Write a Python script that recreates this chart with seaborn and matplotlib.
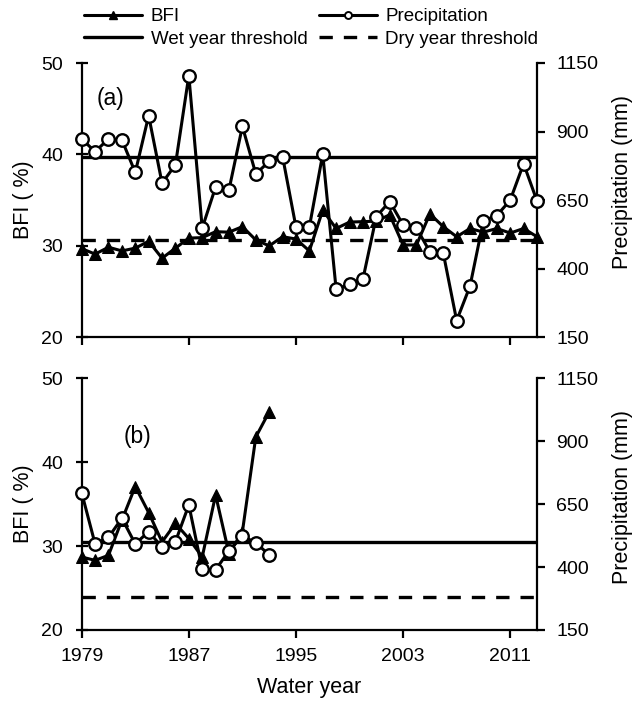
import numpy as np
import pandas as pd
import matplotlib
matplotlib.use("Agg")
import matplotlib.pyplot as plt
import seaborn as sns
from matplotlib.lines import Line2D

# ---------------- data ----------------
years_a = list(range(1979, 2014))
bfi_a = [29.7, 29.1, 29.85, 29.45, 29.75, 30.5, 28.65, 29.75, 30.85, 30.9,
         31.55, 31.5, 32.1, 30.65, 30.0, 31.0, 30.75, 29.45, 33.9, 31.9,
         32.6, 32.65, 32.7, 33.4, 30.1, 30.1, 33.5, 32.1, 31.0, 31.9,
         31.5, 31.9, 31.4, 31.9, 31.0]
precip_a = [873, 827, 873, 870, 751, 958, 712, 779, 1104, 548,
            698, 688, 919, 746, 791, 809, 552, 552, 818, 325,
            343, 362, 590, 645, 560, 548, 462, 457, 211, 337,
            575, 594, 650, 783, 647]
wet_a, dry_a = 809, 506

years_b = list(range(1979, 1994))
bfi_b = [28.7, 28.3, 28.9, 33.1, 37.1, 34.0, 30.5, 32.7, 30.9, 28.7,
         36.1, 29.1, 31.7, 43.0, 46.0]
precip_b = [695, 492, 518, 594, 492, 541, 479, 501, 647, 391,
            389, 465, 523, 497, 448]
wet_b, dry_b = 501, 280

xticks = [1979, 1987, 1995, 2003, 2011]
bfi_ticks = [20, 30, 40, 50]
precip_ticks = [150, 400, 650, 900, 1150]

# ---------------- style ----------------
sns.set_style("ticks")
plt.rcParams['font.family'] = ['Liberation Sans', 'DejaVu Sans']
plt.rcParams['axes.linewidth'] = 1.6
plt.rcParams['text.color'] = 'black'
plt.rcParams['axes.labelcolor'] = 'black'
plt.rcParams['xtick.color'] = 'black'
plt.rcParams['ytick.color'] = 'black'
plt.rcParams['axes.edgecolor'] = 'black'

fig = plt.figure(figsize=(6.36, 7.01), dpi=100)
W, H = 636, 701

def add_ax(left, right, top, bottom):
    return fig.add_axes([left / W, 1 - bottom / H, (right - left) / W, (bottom - top) / H])

ax_a = add_ax(81.7, 537, 63, 337.3)
ax_b = add_ax(81.7, 537, 378.3, 630)

TICK_FS = 14
LAB_FS = 15.5
LW = 2.2

def panel(ax, years, bfi, precip, wet, dry, label, label_xy, rlab_y, show_x):
    df = pd.DataFrame({"year": years, "bfi": bfi, "precip": precip})
    ax2 = ax.twinx()
    sns.lineplot(data=df, x="year", y="bfi", ax=ax, color="black", lw=LW,
                 marker="^", markersize=8.5, markeredgecolor="black",
                 markerfacecolor="black", clip_on=False, zorder=3)
    sns.lineplot(data=df, x="year", y="precip", ax=ax2, color="black", lw=LW,
                 marker="o", markersize=9, markeredgecolor="black",
                 markerfacecolor="white", markeredgewidth=1.7,
                 clip_on=False, zorder=3)
    ax2.axhline(wet, color="black", lw=2.4, zorder=2)
    ax2.axhline(dry, color="black", lw=2.4, dashes=(4, 3.3), zorder=2)

    ax.set_xlim(1979, 2013)
    ax.set_ylim(20, 50)
    ax2.set_ylim(150, 1150)
    ax.set_xticks(xticks)
    ax.set_yticks(bfi_ticks)
    ax2.set_yticks(precip_ticks)

    for s in ["top", "right"]:
        ax.spines[s].set_visible(False)
    for s in ["top", "left", "bottom"]:
        ax2.spines[s].set_visible(False)
    ax2.spines["right"].set_linewidth(1.6)

    ax.tick_params(axis="y", direction="inout", length=8, width=1.6,
                   pad=9.5, labelsize=TICK_FS, colors="black")
    ax.tick_params(axis="x", direction="out", length=6, width=1.6,
                   pad=7, labelsize=TICK_FS, colors="black")
    ax2.tick_params(axis="y", direction="out", length=6, width=1.6,
                    pad=8, labelsize=TICK_FS, colors="black")
    if not show_x:
        ax.tick_params(axis="x", labelbottom=False)
        ax.set_xlabel("")
    else:
        ax.set_xlabel("Water year", fontsize=LAB_FS)
        ax.xaxis.set_label_coords(0.5, -0.185)

    ax.set_ylabel("BFI ( %)", fontsize=LAB_FS)
    ax.yaxis.set_label_coords(-0.105, 0.5)
    ax2.set_ylabel("Precipitation (mm)", fontsize=LAB_FS)
    ax2.yaxis.set_label_coords(1.165, rlab_y)

    ax.text(label_xy[0], label_xy[1], label, transform=ax.transAxes,
            fontsize=16.5, ha="center", va="center")
    ax.patch.set_visible(False)
    ax2.patch.set_visible(False)
    return ax2

panel(ax_a, years_a, bfi_a, precip_a, wet_a, dry_a, "(a)", (0.064, 0.869), 0.565, False)
panel(ax_b, years_b, bfi_b, precip_b, wet_b, dry_b, "(b)", (0.1226, 0.769), 0.53, True)

handles = [
    Line2D([], [], color="black", lw=LW, marker="^", markersize=5.5,
           markerfacecolor="black", markeredgecolor="black"),
    Line2D([], [], color="black", lw=2.4),
    Line2D([], [], color="black", lw=LW, marker="o", markersize=5,
           markerfacecolor="white", markeredgecolor="black", markeredgewidth=1.4),
    Line2D([], [], color="black", lw=2.4, dashes=(4, 3.3)),
]
labels = ["BFI", "Wet year threshold", "Precipitation", "Dry year threshold"]
fig.legend(handles, labels, ncol=2, loc="upper left",
           bbox_to_anchor=(84 / W, 1 - 8 / H), frameon=False,
           fontsize=13.5, handlelength=3.1, handletextpad=0.45,
           columnspacing=0.6, labelspacing=0.3, borderpad=0, borderaxespad=0)

fig.savefig("out.png", dpi=100)
